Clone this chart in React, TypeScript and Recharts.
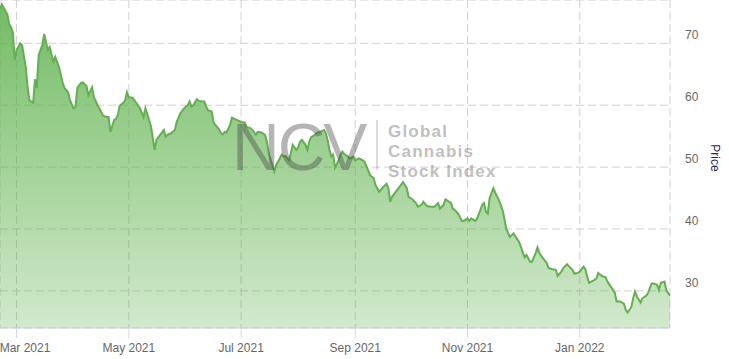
import React from 'react';
import { AreaChart, Area, XAxis, YAxis, CartesianGrid } from 'recharts';

// days counted from 1 Mar 2021 (negative = late Feb)
const days = [
  -9, -8, -5, -4, -3, -2, -1, 0, 2, 3,
  5, 6, 7, 9, 10, 11, 12, 14, 15, 17,
  18, 20, 21, 23, 25, 26, 28, 29, 31, 32,
  33, 35, 36, 38, 39, 41, 42, 44, 45, 47,
  49, 50, 51, 53, 54, 55, 56, 58, 59, 60,
  61, 63, 65, 67, 69, 70, 72, 73, 75, 76,
  78, 80, 81, 82, 84, 86, 87, 89, 91, 92,
  93, 94, 95, 96, 98, 99, 101, 102, 103, 104,
  106, 107, 108, 110, 111, 112, 113, 114, 116, 117,
  119, 120, 122, 124, 125, 127, 129, 130, 131, 133,
  135, 136, 137, 139, 140, 141, 143, 144, 145, 146,
  148, 149, 150, 152, 153, 154, 155, 157, 158, 159,
  160, 162, 163, 165, 167, 168, 169, 170, 171, 172,
  173, 175, 176, 177, 178, 180, 181, 183, 184, 186,
  187, 189, 191, 192, 194, 195, 197, 199, 201, 202,
  203, 204, 206, 208, 210, 212, 213, 215, 217, 218,
  220, 221, 223, 225, 227, 229, 230, 232, 233, 235,
  236, 237, 239, 240, 242, 243, 245, 246, 247, 249,
  250, 251, 253, 254, 255, 256, 257, 259, 260, 262,
  264, 265, 266, 268, 270, 271, 273, 274, 276, 277,
  279, 280, 282, 283, 284, 286, 288, 289, 291, 293,
  294, 296, 297, 299, 300, 302, 303, 305, 306, 308,
  309, 310, 311, 313, 315, 316, 318, 320, 321, 323,
  325, 326, 328, 330, 331, 332, 334, 335, 336, 337,
  339, 340, 342, 343, 345, 346, 348, 349, 350, 352,
  353, 355,
];

const prices = [
  75.5, 76.3, 74.7, 73.1, 72.6, 71.7, 67.3, 68.9, 70.0, 69.7,
  66.2, 62.9, 60.8, 60.4, 64.2, 62.8, 68.1, 69.7, 71.5, 68.9,
  69.4, 67.0, 67.8, 66.2, 63.7, 62.8, 62.1, 60.8, 59.5, 59.7,
  62.8, 63.6, 63.7, 63.1, 61.6, 62.9, 61.3, 60.0, 59.5, 58.3,
  58.1, 58.1, 55.7, 57.6, 57.8, 58.4, 59.9, 60.4, 60.8, 62.1,
  61.3, 61.2, 60.4, 59.5, 58.1, 59.5, 57.6, 56.6, 52.8, 54.4,
  55.2, 56.0, 54.9, 55.2, 55.5, 56.0, 57.3, 58.7, 59.5, 59.8,
  60.0, 60.6, 59.8, 60.0, 61.0, 60.7, 60.6, 60.6, 59.8, 59.2,
  59.0, 57.3, 56.8, 56.1, 55.5, 55.3, 55.7, 55.6, 56.8, 58.0,
  57.7, 57.6, 57.3, 57.2, 56.5, 56.3, 55.7, 55.2, 55.7, 55.6,
  55.2, 54.1, 52.2, 50.3, 49.3, 50.3, 51.4, 52.0, 51.7, 51.8,
  51.1, 52.2, 53.6, 52.8, 53.2, 54.1, 54.4, 53.6, 52.8, 54.1,
  54.8, 55.2, 55.5, 55.7, 56.0, 55.5, 54.4, 52.8, 51.7, 52.0,
  49.9, 51.1, 52.0, 52.5, 52.1, 51.7, 51.4, 51.7, 51.1, 51.4,
  51.3, 50.9, 49.5, 48.7, 48.2, 47.1, 46.0, 46.7, 47.3, 46.6,
  44.4, 45.2, 46.0, 46.8, 47.6, 46.6, 45.2, 44.8, 44.2, 43.6,
  43.9, 44.4, 43.7, 43.6, 43.6, 44.2, 43.3, 43.9, 44.8, 44.4,
  44.2, 43.3, 42.8, 42.4, 41.3, 41.3, 41.7, 41.3, 41.7, 41.3,
  41.6, 42.3, 43.9, 44.2, 42.8, 42.5, 45.0, 46.6, 45.9, 44.7,
  43.1, 41.7, 40.1, 38.7, 39.3, 38.8, 37.9, 37.1, 35.4, 35.8,
  34.7, 34.7, 36.1, 37.0, 36.1, 35.3, 34.5, 33.7, 33.5, 33.4,
  32.4, 33.1, 33.7, 34.3, 34.0, 33.4, 32.8, 32.9, 33.1, 33.9,
  33.5, 32.3, 31.3, 31.6, 32.0, 32.9, 32.4, 32.2, 31.5, 30.6,
  29.7, 28.3, 28.3, 27.9, 26.9, 26.5, 27.4, 28.8, 29.9, 29.1,
  28.1, 28.8, 29.2, 29.6, 31.2, 31.2, 31.0, 30.1, 31.3, 31.5,
  30.1, 29.2,
];

const monthTicks = [0, 61, 122, 184, 245, 306];
const monthLabels = ['Mar 2021', 'May 2021', 'Jul 2021', 'Sep 2021', 'Nov 2021', 'Jan 2022'];
const priceTicks = [30, 40, 50, 60, 70];

const data = days.map((d, i) => ({ d, price: prices[i] }));

const font = '"Liberation Sans", Arial, sans-serif';

const XTick = (props: any) => {
  const { x, payload } = props;
  const label = monthLabels[monthTicks.indexOf(payload.value)];
  // keep first label inside the chart like the original does
  const tx = Math.max(x, 25);
  return (
    <text x={tx} y={352} textAnchor="middle" fill="#666" fontSize={12} fontFamily={font}>
      {label}
    </text>
  );
};

const YTick = (props: any) => {
  const { y, payload } = props;
  return (
    <text x={685} y={y - 4} textAnchor="start" fill="#666" fontSize={12} fontFamily={font}>
      {payload.value}
    </text>
  );
};

export default function App() {
  return (
    <div style={{ position: 'absolute', left: 0, top: 0, width: 729, height: 359, fontFamily: font }}>
      <AreaChart width={729} height={359} data={data} margin={{ top: 0, right: 0, bottom: 0, left: 0 }}>
        <defs>
          <linearGradient id="priceFill" x1="0" y1="0" x2="0" y2="1">
            <stop offset="0%" stopColor="#5cb04a" stopOpacity={0.85} />
            <stop offset="100%" stopColor="#5cb04a" stopOpacity={0.28} />
          </linearGradient>
        </defs>
        <CartesianGrid stroke="#d0d0d0" strokeDasharray="8 4" />
        <XAxis
          dataKey="d"
          type="number"
          domain={[-9, 355]}
          ticks={monthTicks}
          interval={0}
          height={31}
          tickSize={10}
          tick={<XTick />}
          tickLine={{ stroke: '#ccd6eb' }}
          axisLine={{ stroke: '#ccd6eb' }}
          allowDataOverflow
        />
        <YAxis
          orientation="right"
          domain={[24, 77]}
          ticks={priceTicks}
          width={59}
          axisLine={false}
          tickLine={false}
          tick={<YTick />}
          allowDataOverflow
        />
        <Area
          type="linear"
          dataKey="price"
          stroke="#62b04f"
          strokeWidth={2}
          fill="url(#priceFill)"
          fillOpacity={1}
          dot={false}
          activeDot={false}
          isAnimationActive={false}
        />
      </AreaChart>
      <svg width={729} height={359} style={{ position: 'absolute', left: 0, top: 0, pointerEvents: 'none' }}>
        <text x={232} y={170} fontSize={66} letterSpacing={-2} fill="rgba(70,70,70,0.4)" fontFamily={font}>
          NCV
        </text>
        <line x1={377} y1={120} x2={377} y2={170} stroke="rgba(120,120,120,0.35)" strokeWidth={1.5} />
        <g fontSize={17} fontWeight="bold" letterSpacing={1.2} fill="rgba(110,110,110,0.45)" fontFamily={font}>
          <text x={388} y={137}>Global</text>
          <text x={388} y={157}>Cannabis</text>
          <text x={388} y={177}>Stock Index</text>
        </g>
        <text
          transform="translate(715,158) rotate(90)"
          textAnchor="middle"
          dominantBaseline="central"
          fontSize={12}
          fill="#1c2a55"
          fontFamily={font}
        >
          Price
        </text>
      </svg>
    </div>
  );
}
